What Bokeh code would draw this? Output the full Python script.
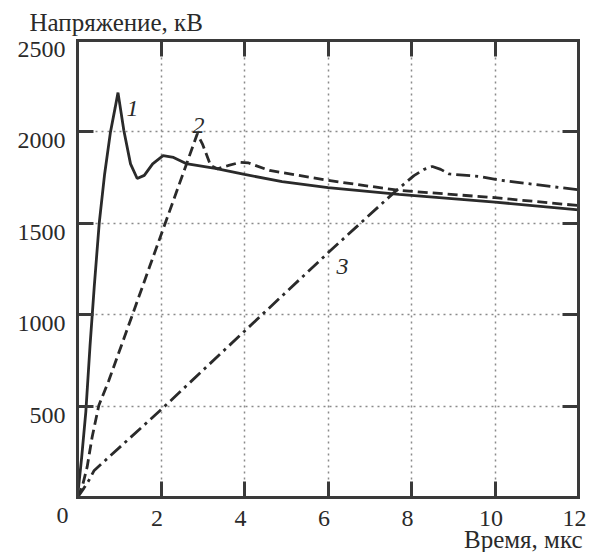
from bokeh.plotting import figure
from bokeh.models import (Range1d, FixedTicker, LinearAxis, Grid, Label, LabelSet,
                          ColumnDataSource)
from bokeh.core.properties import value
from bokeh.embed import file_html
from bokeh.resources import INLINE

# ---- data ----
t1 = [0, 0.1, 0.2, 0.3, 0.4, 0.52, 0.65, 0.79, 0.9, 0.97, 1.11, 1.27, 1.43, 1.6,
      1.8, 2.05, 2.3, 2.6, 3.3, 4.0, 4.9, 6.0, 7.7, 10.0, 12.0]
v1 = [0, 220, 470, 830, 1150, 1500, 1770, 2000, 2130, 2215, 2008, 1825, 1745, 1762,
      1825, 1870, 1860, 1827, 1800, 1767, 1728, 1695, 1658, 1616, 1574]

t2 = [0, 0.11, 0.23, 0.35, 0.51, 0.75, 1.34, 1.75, 2.29, 2.59, 2.87, 3.0, 3.19, 3.35,
      3.6, 3.9, 4.1, 4.6, 6.0, 7.7, 10.0, 12.0]
v2 = [0, 56, 166, 330, 503, 640, 1015, 1277, 1620, 1811, 1990, 1930, 1816, 1798,
      1815, 1834, 1830, 1789, 1735, 1680, 1640, 1597]

t3 = [0, 0.15, 0.27, 0.4, 2.0, 4.0, 6.06, 7.6, 8.06, 8.3, 8.5, 8.7, 8.9, 9.65, 10.05, 12.0]
v3 = [0, 50, 93, 148, 480, 910, 1351, 1672, 1761, 1795, 1811, 1795, 1770, 1756, 1738, 1683]

X_MIN, X_MAX = 0, 12
Y_MIN, Y_MAX = 0, 2500
x_ticks = [2, 4, 6, 8, 10, 12]
x_tick_labels = ["2", "4", "6", "8", "10", "12"]
y_ticks = [500, 1000, 1500, 2000, 2500]
y_tick_labels = ["500", "1000", "1500", "2000", "2500"]
origin_label = "0"
grid_x = [2, 4, 6, 8, 10]
grid_y = [500, 1000, 1500, 2000]

curve_names = ["1", "2", "3"]
curve_label_t = [1.32, 2.90, 6.35]
curve_label_v = [2128, 2035, 1264]

y_title = "Напряжение, кВ"
x_title = "Время, мкс"

INK = "#2a2a2a"
FRAME = "#3a3a3a"
FONT = "Liberation Serif"

# the plotting frame fills the whole canvas; the boxed area is drawn by
# axes fixed at the data limits, so text outside the box is not clipped
W, H = 594, 552
BOX_L, BOX_B, BOX_W, BOX_H = 77, 497, 501, 457
px_x = (X_MAX - X_MIN) / BOX_W
px_y = (Y_MAX - Y_MIN) / BOX_H
xr = Range1d(X_MIN - BOX_L * px_x, X_MIN + (W - BOX_L) * px_x)
yr = Range1d(Y_MIN - (H - BOX_B) * px_y, Y_MIN + BOX_B * px_y)

p = figure(width=W, height=H, output_backend="svg", toolbar_location=None,
           x_range=xr, y_range=yr, x_axis_type=None, y_axis_type=None,
           title=None, min_border=0)
p.background_fill_color = "white"
p.border_fill_color = "white"
p.outline_line_color = None

# grid
for dim, ticks in ((0, grid_x), (1, grid_y)):
    g = Grid(dimension=dim, ticker=FixedTicker(ticks=ticks),
             bounds=(X_MIN, X_MAX) if dim == 0 else (Y_MIN, Y_MAX),
             cross_bounds=(Y_MIN, Y_MAX) if dim == 0 else (X_MIN, X_MAX),
             grid_line_color="#8a8a8a", grid_line_width=1.5, grid_line_dash="2 4")
    p.add_layout(g, "center")

def mk_axis(ticks, loc, bounds):
    return LinearAxis(ticker=FixedTicker(ticks=ticks), fixed_location=loc, bounds=bounds,
                      axis_line_color=FRAME, axis_line_width=3, axis_line_cap="square",
                      major_tick_in=16, major_tick_out=0,
                      major_tick_line_color=FRAME, major_tick_line_width=3,
                      minor_tick_line_color=None, major_label_text_color=None)

p.add_layout(mk_axis(grid_x, Y_MIN, (X_MIN, X_MAX)), "below")
p.add_layout(mk_axis(grid_x, Y_MAX, (X_MIN, X_MAX)), "above")
p.add_layout(mk_axis(grid_y, X_MIN, (Y_MIN, Y_MAX)), "left")
p.add_layout(mk_axis(grid_y, X_MAX, (Y_MIN, Y_MAX)), "right")

# curves
p.line(t1, v1, line_color=INK, line_width=2.8)
p.line(t2, v2, line_color=INK, line_width=2.8, line_dash="10 5")
p.line(t3, v3, line_color=INK, line_width=2.8, line_dash="14 5 3 5")

# tick labels
xs = ColumnDataSource(dict(x=x_ticks, y=[Y_MIN] * len(x_ticks), text=x_tick_labels))
p.add_layout(LabelSet(x="x", y="y", text="text", source=xs, x_offset=-4, y_offset=-21,
                      text_align="center", text_baseline="middle",
                      text_font=value(FONT), text_font_size=value("24px"),
                      text_color=INK))
ys = ColumnDataSource(dict(x=[X_MIN] * len(y_ticks), y=y_ticks, text=y_tick_labels))
p.add_layout(LabelSet(x="x", y="y", text="text", source=ys, x_offset=-12, y_offset=-9,
                      text_align="right", text_baseline="middle",
                      text_font=value(FONT), text_font_size=value("24px"),
                      text_color=INK))
p.add_layout(Label(x=X_MIN, y=Y_MIN, text=origin_label, x_offset=-15, y_offset=-18,
                   text_align="center", text_baseline="middle",
                   text_font=FONT, text_font_size="24px", text_color=INK))

# curve numbers
cs = ColumnDataSource(dict(x=curve_label_t, y=curve_label_v, text=curve_names))
p.add_layout(LabelSet(x="x", y="y", text="text", source=cs, text_align="center",
                      text_baseline="middle", text_font=value(FONT),
                      text_font_size=value("24px"), text_font_style="italic",
                      text_color=INK))

# axis titles
p.add_layout(Label(x=X_MIN, y=Y_MAX, x_offset=-48, y_offset=18, text=y_title,
                   text_align="left", text_baseline="middle", text_font=FONT,
                   text_font_size="25px", text_color=INK))
p.add_layout(Label(x=X_MAX, y=Y_MIN, x_offset=4, y_offset=-42, text=x_title,
                   text_align="right", text_baseline="middle", text_font=FONT,
                   text_font_size="25px", text_color=INK))

open("out.html", "w").write(file_html(p, INLINE))
